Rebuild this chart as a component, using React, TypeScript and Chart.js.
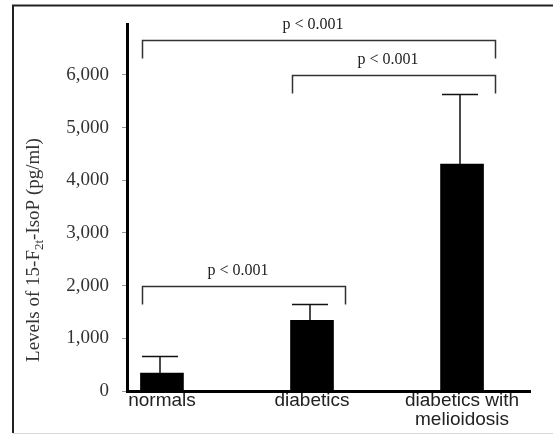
import React, { useEffect, useRef } from 'react';
import { Chart, registerables } from 'chart.js';

Chart.register(...registerables);

// ---- data ----
const categories: string[][] = [['normals'], ['diabetics'], ['diabetics with', 'melioidosis']];
const categoryIndex = [0, 1, 2];
const meanValues = [340, 1340, 4310];
const upperErrors = [670, 1650, 5640];
const yTickValues = [0, 1000, 2000, 3000, 4000, 5000, 6000];
const yMax = 6960;
const bracketFrom = [0, 1, 0];
const bracketTo = [2, 2, 1];
const bracketLevel = [6660, 6000, 2000];
const bracketLabels = ['p < 0.001', 'p < 0.001', 'p < 0.001'];
const yTitleParts = ['Levels of 15-F', '2t', '-IsoP (pg/ml)'];

const SERIF = '"Liberation Serif", "Times New Roman", serif';
const SANS = '"Liberation Sans", Arial, sans-serif';

const framePlugin = {
  id: 'frame',
  beforeDraw(chart: any) {
    const ctx = chart.ctx;
    ctx.save();
    ctx.fillStyle = '#fff';
    ctx.fillRect(0, 0, chart.width, chart.height);
    ctx.strokeStyle = '#222';
    ctx.lineWidth = 2;
    ctx.beginPath();
    ctx.moveTo(13, 433);
    ctx.lineTo(13, 5.5);
    ctx.lineTo(chart.width, 5.5);
    ctx.stroke();
    ctx.strokeStyle = '#d8d8d8';
    ctx.lineWidth = 1;
    ctx.beginPath();
    ctx.moveTo(13, 433.5);
    ctx.lineTo(chart.width, 433.5);
    ctx.stroke();
    ctx.restore();
  },
};

const errorBarPlugin = {
  id: 'errorBars',
  afterDatasetsDraw(chart: any) {
    const ctx = chart.ctx;
    const meta = chart.getDatasetMeta(0);
    const y = chart.scales.y;
    ctx.save();
    ctx.strokeStyle = '#111';
    ctx.lineWidth = 1.5;
    meta.data.forEach((bar: any, i: number) => {
      const top = Math.round(y.getPixelForValue(upperErrors[i])) + 0.5;
      const cx = Math.round(bar.x) - 2;
      ctx.beginPath();
      ctx.moveTo(cx, bar.y);
      ctx.lineTo(cx, top);
      ctx.moveTo(cx - 18, top);
      ctx.lineTo(cx + 18, top);
      ctx.stroke();
    });
    ctx.restore();
  },
};

const bracketPlugin = {
  id: 'brackets',
  afterDatasetsDraw(chart: any) {
    const ctx = chart.ctx;
    const x = chart.scales.x;
    const y = chart.scales.y;
    ctx.save();
    ctx.strokeStyle = '#333';
    ctx.lineWidth = 1.5;
    ctx.fillStyle = '#222';
    ctx.font = `16px ${SERIF}`;
    ctx.textAlign = 'center';
    ctx.textBaseline = 'middle';
    bracketLabels.forEach((label, i) => {
      const x1 = Math.round(x.getPixelForValue(bracketFrom[i]) - 20) + 0.5;
      const x2 = Math.round(x.getPixelForValue(bracketTo[i]) + 33) + 0.5;
      const yy = Math.round(y.getPixelForValue(bracketLevel[i])) + 0.5;
      ctx.beginPath();
      ctx.moveTo(x1, yy + 18);
      ctx.lineTo(x1, yy);
      ctx.lineTo(x2, yy);
      ctx.lineTo(x2, yy + 18);
      ctx.stroke();
      ctx.fillText(label, (x1 + x2) / 2 - 6, yy - 16);
    });
    ctx.restore();
  },
};

const yTitlePlugin = {
  id: 'yTitle',
  afterDraw(chart: any) {
    const ctx = chart.ctx;
    const mainFont = `19px ${SERIF}`;
    const subFont = `13px ${SERIF}`;
    ctx.save();
    ctx.font = mainFont;
    const w0 = ctx.measureText(yTitleParts[0]).width;
    const w2 = ctx.measureText(yTitleParts[2]).width;
    ctx.font = subFont;
    const w1 = ctx.measureText(yTitleParts[1]).width;
    const total = w0 + w1 + w2;
    ctx.translate(33, 250);
    ctx.rotate(-Math.PI / 2);
    ctx.fillStyle = '#333';
    ctx.textBaseline = 'alphabetic';
    ctx.textAlign = 'left';
    let px = -total / 2;
    ctx.font = mainFont;
    ctx.fillText(yTitleParts[0], px, 6);
    px += w0;
    ctx.font = subFont;
    ctx.fillText(yTitleParts[1], px, 10);
    px += w1;
    ctx.font = mainFont;
    ctx.fillText(yTitleParts[2], px, 6);
    ctx.restore();
  },
};

export default function App() {
  const ref = useRef<HTMLCanvasElement>(null);
  useEffect(() => {
    if (!ref.current) return;
    const chart = new Chart(ref.current, {
      type: 'bar',
      data: {
        datasets: [
          {
            data: categoryIndex.map((c, i) => ({ x: c, y: meanValues[i] })),
            backgroundColor: '#000',
            borderColor: '#000',
            borderWidth: 0,
            barThickness: 43,
          },
        ],
      },
      options: {
        animation: false,
        responsive: false,
        devicePixelRatio: 1,
        layout: { padding: { top: 20, right: 23, left: 0, bottom: 0 } },
        plugins: { legend: { display: false }, tooltip: { enabled: false } },
        scales: {
          x: {
            type: 'linear',
            offset: false,
            min: -0.233,
            max: 2.453,
            afterFit: (s: any) => {
              s.height = 44;
            },
            afterBuildTicks: (s: any) => {
              s.ticks = categoryIndex.map((v) => ({ value: v }));
            },
            ticks: {
              callback: (v: any) => categories[v as number],
              font: { family: SANS, size: 19, lineHeight: 1 },
              color: '#222',
              padding: 0,
              maxRotation: 0,
              autoSkip: false,
            },
            grid: { display: false, drawTicks: false, offset: false },
            border: { display: true, color: '#000', width: 3 },
          },
          y: {
            min: 0,
            max: yMax,
            afterBuildTicks: (s: any) => {
              s.ticks = yTickValues.map((v) => ({ value: v }));
            },
            ticks: {
              callback: (v: any) => Number(v).toLocaleString('en-US'),
              font: { family: SERIF, size: 19 },
              color: '#333',
              padding: 13,
            },
            grid: { drawOnChartArea: false, drawTicks: true, tickLength: 5, color: '#999' },
            border: { color: '#000', width: 3 },
            afterFit: (s: any) => {
              s.width = 127;
            },
          },
        },
      },
      plugins: [framePlugin, errorBarPlugin, bracketPlugin, yTitlePlugin],
    } as any);
    return () => chart.destroy();
  }, []);
  return (
    <div style={{ position: 'absolute', left: 0, top: 0, width: 553, height: 435 }}>
      <canvas ref={ref} width={553} height={435} style={{ display: 'block' }} />
    </div>
  );
}
